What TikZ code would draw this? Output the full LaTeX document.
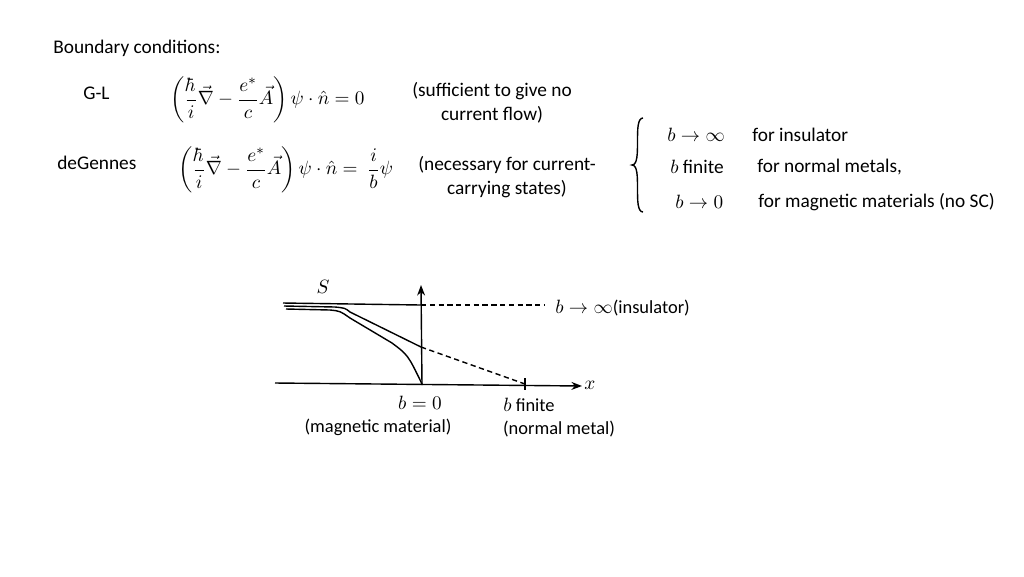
\documentclass[tikz,border=0pt]{standalone}
\usepackage{amsmath}
\usepackage{fontspec}
\setmainfont{Carlito}
\usetikzlibrary{arrows.meta}
\begin{document}
\begin{tikzpicture}[x=0.02cm,y=-0.02cm,
  txt/.style={font=\fontsize{11}{13.5}\selectfont,inner sep=0pt},
  sm/.style={font=\fontsize{10.5}{12}\selectfont,inner sep=0pt},
  eq/.style={font=\fontsize{11}{13}\selectfont,inner sep=0pt},
  ln/.style={line width=0.8pt},
  dsh/.style={line width=0.8pt,dashed,dash pattern=on 3pt off 2pt}]
\useasboundingbox (0,0) rectangle (1024,576);
\node[txt,anchor=west] (bc) at (53,48) {Boundary conditions:};
\node[txt,anchor=west] (gl) at (83,93) {G-L};
\node[txt,anchor=west] (dg) at (57,163) {deGennes};
\node[eq,anchor=west] (e1) at (170,100) {$\left(\dfrac{\hbar}{i}\vec{\nabla}-\dfrac{e^*}{c}\vec{A}\right)\psi\cdot\hat{n}=0$};
\node[eq,anchor=west] (e2) at (178,170) {$\left(\dfrac{\hbar}{i}\vec{\nabla}-\dfrac{e^*}{c}\vec{A}\right)\psi\cdot\hat{n}=\ \dfrac{i}{b}\psi$};
\node[txt,align=center] (n1) at (492,103) {(sufficient to give no\\current flow)};
\node[txt,align=center] (n2) at (507,177) {(necessary for current-\\carrying states)};
\draw[ln] (643,118) .. controls (632,118) and (643,165) .. (632,165) .. controls (643,165) and (632,212) .. (643,212);
\node[txt,anchor=west] (c1) at (667,135) {$b\rightarrow\infty$};
\node[txt,anchor=west] (d1) at (752,135) {for insulator};
\node[txt,anchor=west] (c2) at (670,167) {$b$ finite};
\node[txt,anchor=west] (d2) at (757,167) {for normal metals,};
\node[txt,anchor=west] (c3) at (675,202) {$b\rightarrow 0$};
\node[txt,anchor=west] (d3) at (758,202) {for magnetic materials (no SC)};
% graph
\coordinate (x0) at (275,383);
\coordinate (x1) at (582,386);
\draw[ln,-{Stealth[length=6pt]}] (x0) -- (x1);
\node[sm,anchor=west] (xl) at (584,385) {$x$};
\coordinate (o) at (422,385);
\coordinate (yt) at (421,285);
\draw[ln,-{Stealth[length=6pt]}] (o) -- (yt);
\node[sm] (sl) at (323,287) {$S$};
\coordinate (t0) at (283,303);
\coordinate (t1) at (421,305);
\coordinate (t2) at (545,305);
\draw[ln] (t0) -- (t1);
\draw[dsh] (t1) -- (t2);
\node[sm,anchor=west] (il) at (555,308) {$b\rightarrow\infty$(insulator)};
\coordinate (m1) at (421,347);
\coordinate (bf) at (525,384);
\draw[ln] (284,306) -- (335,307) .. controls (345,308) .. (350,312) -- (m1);
\draw[dsh] (m1) -- (bf);
\draw[ln] (bf) ++(0,-6) -- ++(0,12);
\draw[ln] (286,309) -- (330,310) .. controls (340,311) .. (350,318) -- (392,343) .. controls (408,355) .. (422,384);
\node[sm] (b0) at (420,403) {$b=0$};
\node[sm] (bfl) at (529,405) {$b$ finite};
\node[sm] (mm) at (378,427) {(magnetic material)};
\node[sm] (nm) at (559,429) {(normal metal)};
\end{tikzpicture}
\end{document}
